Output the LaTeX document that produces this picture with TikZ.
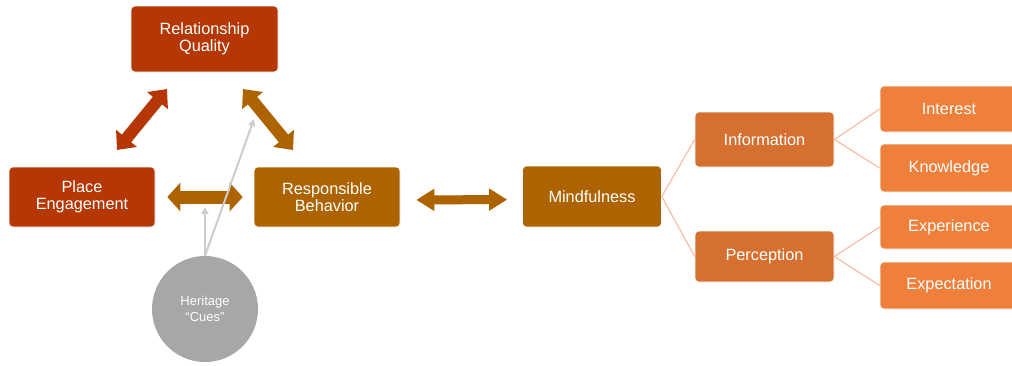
\documentclass[tikz,border=0pt]{standalone}
\usepackage{fontspec}
\setmainfont{Liberation Sans}
\usetikzlibrary{arrows.meta}
\definecolor{cred}{RGB}{180,55,5}
\definecolor{cbrown}{RGB}{172,99,0}
\definecolor{cmid}{RGB}{214,112,48}
\definecolor{clight}{RGB}{238,128,60}
\definecolor{cgray}{RGB}{168,166,166}
\definecolor{csalmon}{RGB}{245,185,155}
\definecolor{carrowgray}{RGB}{205,205,205}
\begin{document}
\begin{tikzpicture}[x=1pt,y=-1pt,
  box/.style={draw=white,line width=0.6pt,rounded corners=4pt,text=white,align=center,
    font=\fontsize{16.3}{17.5}\selectfont,inner sep=0pt},
  bigA/.style={line width=12pt,{Triangle[length=15pt,width=26pt]}-{Triangle[length=15pt,width=26pt]}},
  bigB/.style={line width=13pt,{Triangle[length=13pt,width=28pt]}-{Triangle[length=13pt,width=28pt]}},
  bigC/.style={line width=9pt,{Triangle[length=18pt,width=21pt]}-{Triangle[length=18pt,width=21pt]}},
  thin/.style={draw=csalmon,line width=1.1pt},
  grayarrow/.style={draw=carrowgray,line width=2pt,-{Triangle[length=7pt,width=7pt]}}]
\useasboundingbox (0,0) rectangle (1012,365);
% boxes
\node[box,fill=cred,minimum width=147pt,minimum height=66pt] (rq) at (204.5,39) {Relationship\\Quality};
\node[box,fill=cred,minimum width=146pt,minimum height=60pt] (pe) at (82,197) {Place\\Engagement};
\node[box,fill=cbrown,minimum width=146pt,minimum height=60pt] (rb) at (327,197) {Responsible\\Behavior};
\node[box,fill=cbrown,minimum width=139pt,minimum height=61pt] (mind) at (592,196.5) {Mindfulness};
\node[box,fill=cmid,minimum width=139pt,minimum height=55pt] (info) at (764.5,139.5) {Information};
\node[box,fill=cmid,minimum width=139pt,minimum height=51pt] (perc) at (764.5,256.5) {Perception};
\node[box,fill=clight,minimum width=138pt,minimum height=46pt] (int) at (949,109) {Interest};
\node[box,fill=clight,minimum width=138pt,minimum height=48pt] (know) at (949,168) {Knowledge};
\node[box,fill=clight,minimum width=138pt,minimum height=44pt] (exp) at (949,227) {Experience};
\node[box,fill=clight,minimum width=138pt,minimum height=47pt] (expc) at (949,285.5) {Expectation};
\node[circle,fill=cgray,minimum size=106pt,inner sep=0pt,text=white,align=center,
  font=\fontsize{13}{16}\selectfont] (her) at (205,309) {Heritage\\``Cues''};
% tree lines
\draw[thin] (mind.east) -- (info.west);
\draw[thin] (mind.east) -- (perc.west);
\draw[thin] (info.east) -- (int.west);
\draw[thin] (info.east) -- (know.west);
\draw[thin] (perc.east) -- (exp.west);
\draw[thin] (perc.east) -- (expc.west);
% big arrows
\coordinate (a1) at (117,150);
\coordinate (a2) at (167,89);
\coordinate (b1) at (243,89);
\coordinate (b2) at (293,150);
\draw[bigA,cred] (a1) -- (a2);
\draw[bigA,cbrown] (b1) -- (b2);
\draw[bigB,cbrown,shorten <=12pt,shorten >=11pt] (pe.east) -- (rb.west);
\draw[bigC,cbrown,shorten <=16pt,shorten >=15pt] ([yshift=-3pt]rb.east) -- ([yshift=-3pt]mind.west);
% gray arrows
\coordinate (g1) at (205,207);
\coordinate (g2) at (254,119);
\draw[grayarrow] (her.north) -- (g1);
\draw[grayarrow] (her.north) -- (g2);
\end{tikzpicture}
\end{document}
